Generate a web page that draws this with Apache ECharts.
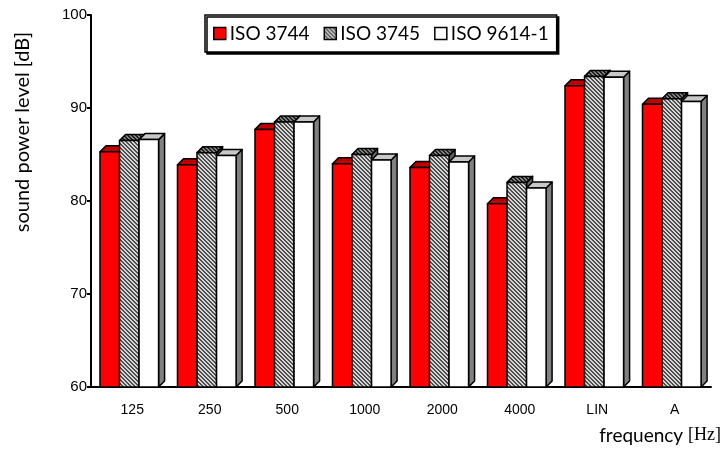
<!DOCTYPE html>
<html>
<head>
<meta charset="utf-8">
<script src="https://cdn.jsdelivr.net/npm/echarts@6/dist/echarts.min.js"></script>
<style>
  html, body { margin: 0; padding: 0; background: #fff; }
  #container { width: 728px; height: 454px; }
</style>
</head>
<body>
<div id="container"></div>
<script>
var categories = ['125', '250', '500', '1000', '2000', '4000', 'LIN', 'A'];
var iso3744 = [85.3, 83.9, 87.7, 84.0, 83.6, 79.7, 92.4, 90.4];
var iso3745 = [86.5, 85.2, 88.5, 85.0, 84.9, 82.0, 93.4, 91.0];
var iso9614 = [86.6, 84.9, 88.5, 84.4, 84.2, 81.4, 93.3, 90.7];
var seriesNames = ['ISO 3744', 'ISO 3745', 'ISO 9614-1'];
var yMin = 60, yMax = 100, yStep = 10;

// diagonal hatch used for ISO 3745
function hatch(light, dark) {
  var c = document.createElement('canvas');
  c.width = 4; c.height = 4;
  var g = c.getContext('2d');
  g.fillStyle = light;
  g.fillRect(0, 0, 4, 4);
  g.fillStyle = dark;
  for (var i = 0; i < 4; i++) {
    g.fillRect(i, i, 1, 1);
    g.fillRect((i + 1) % 4, i, 1, 1);
  }
  return { image: c, repeat: 'repeat' };
}

var faces = [
  { front: '#ff0000', top: '#c00000', side: '#a00000' },
  { front: hatch('#d4d4d4', '#505050'), top: hatch('#808080', '#202020'), side: '#606060' },
  { front: '#ffffff', top: '#c8c8c8', side: '#808080' }
];

var myChart = echarts.init(document.getElementById('container'));

function makeRender(k) {
  return function (params, api) {
    var idx = api.value(0);
    var val = api.value(1);
    var top = api.coord([idx, val]);
    var base = api.coord([idx, yMin]);
    var band = api.size([1, 0])[0];
    var bw = band * 0.252;
    var x0 = top[0] - band / 2 + band * 0.116 + k * bw;
    var x1 = x0 + bw;
    var d = 6;
    var f = faces[k];
    var line = { stroke: '#000', lineWidth: 1.5, lineJoin: 'round' };
    return {
      type: 'group',
      children: [
        {
          type: 'polygon',
          shape: { points: [[x1, base[1]], [x1, top[1]], [x1 + d, top[1] - d], [x1 + d, base[1] - d]] },
          style: Object.assign({ fill: f.side }, line)
        },
        {
          type: 'polygon',
          shape: { points: [[x0, top[1]], [x1, top[1]], [x1 + d, top[1] - d], [x0 + d, top[1] - d]] },
          style: Object.assign({ fill: f.top }, line)
        },
        {
          type: 'rect',
          shape: { x: x0, y: top[1], width: bw, height: base[1] - top[1] },
          style: Object.assign({ fill: f.front }, line)
        }
      ]
    };
  };
}

var allData = [iso3744, iso3745, iso9614];
var series = allData.map(function (vals, k) {
  return {
    name: seriesNames[k],
    type: 'custom',
    renderItem: makeRender(k),
    itemStyle: { color: faces[k].front, borderColor: '#000', borderWidth: 1.5 },
    encode: { x: 0, y: 1 },
    data: vals.map(function (v, i) { return [i, v]; })
  };
});

var option = {
  animation: false,
  backgroundColor: '#fff',
  textStyle: { fontFamily: 'Liberation Sans' },
  grid: { left: 91, right: 17, top: 15, bottom: 67 },
  legend: {
    left: 205,
    top: 15,
    padding: [9, 8, 9, 8],
    itemGap: 14,
    itemWidth: 12,
    itemHeight: 12,
    backgroundColor: '#fff',
    borderColor: '#000',
    borderWidth: 1.5,
    shadowColor: '#000',
    shadowBlur: 0,
    shadowOffsetX: 2,
    shadowOffsetY: 2,
    textStyle: { fontSize: 19, fontFamily: 'Lato', color: '#000', padding: [0, 0, 0, -1] },
    data: seriesNames.map(function (n, k) {
      return { name: n, icon: 'rect', itemStyle: { color: faces[k].front, borderColor: '#000', borderWidth: 1.5 } };
    })
  },
  xAxis: {
    type: 'category',
    data: categories,
    axisLine: { lineStyle: { color: '#000', width: 2 } },
    axisTick: { show: false },
    axisLabel: { color: '#000', fontSize: 14, margin: 16, padding: [0, 0, 0, 5] }
  },
  yAxis: {
    type: 'value',
    min: yMin,
    max: yMax,
    interval: yStep,
    axisLine: { show: true, lineStyle: { color: '#000', width: 2 } },
    axisTick: { show: true, length: 4, lineStyle: { color: '#000', width: 2 } },
    splitLine: { show: false },
    axisLabel: { color: '#000', fontSize: 15, margin: 4 }
  },
  graphic: [
    {
      type: 'text',
      x: 23,
      y: 132,
      rotation: Math.PI / 2,
      style: {
        text: 'sound power level [dB]',
        fontSize: 20,
        fontFamily: 'Lato',
        fill: '#000',
        align: 'center',
        verticalAlign: 'middle'
      }
    },
    {
      type: 'text',
      right: 7,
      top: 426,
      style: {
        text: '{a|frequency }{b|[Hz]}',
        rich: {
          a: { fontSize: 19, fontFamily: 'Lato', fill: '#000' },
          b: { fontSize: 18, fontFamily: 'Liberation Serif', fill: '#000' }
        }
      }
    }
  ],
  series: series
};

myChart.setOption(option);
</script>
</body>
</html>
